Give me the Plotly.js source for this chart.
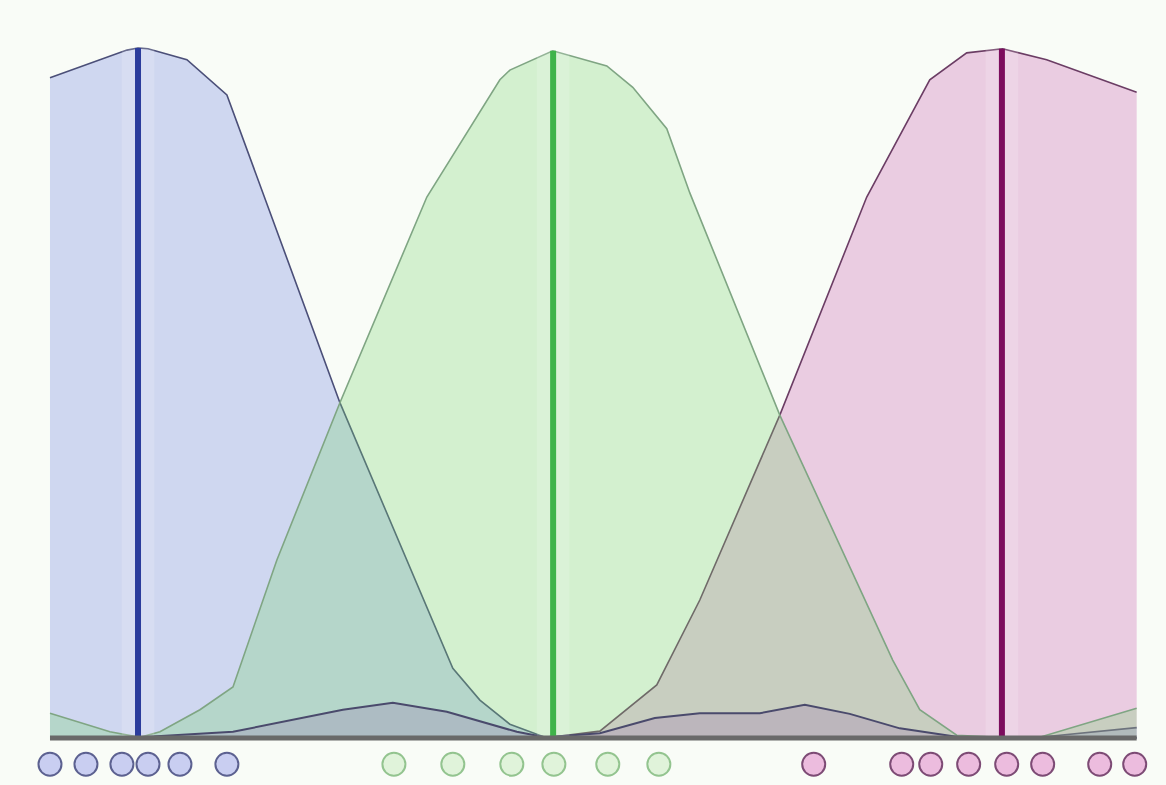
<!DOCTYPE html>
<html>
<head>
<meta charset="utf-8">
<script src="https://cdn.plot.ly/plotly-3.0.1.min.js"></script>
<style>
  html, body { margin: 0; padding: 0; background: #f9fcf7; }
  #plot { width: 1166px; height: 785px; }
</style>
</head>
<body>
<div id="plot"></div>
<script>
// density curves (x in arbitrary units 0..10, peak height ~1)
let blueX = [0.000, 0.405, 0.708, 0.810, 0.902, 1.260, 1.628, 2.668, 3.707, 3.956, 4.232, 4.554, 5.060, 9.108, 10.0];
let blueY = [0.957, 0.980, 0.997, 1.000, 0.999, 0.983, 0.932, 0.486, 0.101, 0.055, 0.020, 0.001, 0.000, 0.001, 0.015];

let greenX = [0.000, 0.552, 0.828, 1.012, 1.380, 1.684, 2.088, 2.668, 3.468, 4.140, 4.232, 4.627, 5.124, 5.363,
              5.676, 5.888, 6.716, 7.755, 8.004, 8.344, 8.740, 9.108, 10.0];
let greenY = [0.036, 0.009, 0.001, 0.009, 0.041, 0.074, 0.258, 0.486, 0.784, 0.954, 0.968, 0.996, 0.974, 0.943,
              0.883, 0.790, 0.468, 0.113, 0.041, 0.004, 0.001, 0.001, 0.043];

let pinkX = [0.000, 4.554, 5.060, 5.584, 5.980, 6.716, 7.516, 8.096, 8.436, 8.767, 9.172, 10.0];
let pinkY = [0.000, 0.000, 0.010, 0.077, 0.200, 0.468, 0.784, 0.954, 0.993, 0.999, 0.983, 0.936];

// small bumps along the bottom
let bumpX = [0.000, 0.828, 1.684, 2.695, 3.155, 3.652, 4.296, 4.554, 5.060, 5.566, 5.980, 6.532, 6.946, 7.360, 7.820, 8.372, 10.0];
let bumpY = [0.000, 0.001, 0.009, 0.041, 0.051, 0.038, 0.009, 0.001, 0.007, 0.029, 0.036, 0.036, 0.048, 0.035, 0.014, 0.001, 0.000];

// peak positions (vertical lines)
let peakX = [0.81, 4.63, 8.76];
let peakY = [1.000, 0.996, 0.999];

// sample points drawn as circles under the axis
let blueDots = [0.000, 0.331, 0.662, 0.902, 1.196, 1.628];
let greenDots = [3.165, 3.707, 4.250, 4.637, 5.133, 5.603];
let pinkDots = [7.028, 7.838, 8.105, 8.454, 8.804, 9.135, 9.660, 9.982];
let dotLevel = -0.038;

let fills = ['rgba(150,165,230,0.42)', 'rgba(122,212,117,0.30)', 'rgba(190,60,160,0.25)'];
let edges = ['#4b4f78', '#7fa583', '#6b3d64'];
let peakColors = ['#2b3c9c', '#3fb34a', '#7c0c5d'];
let dotFills = ['#c9cef1', '#e0f3da', '#ecbcde'];
let dotEdges = ['#5c6190', '#93c48f', '#7d4b75'];

let curves = [[blueX, blueY], [greenX, greenY], [pinkX, pinkY]];
let dots = [blueDots, greenDots, pinkDots];

let data = [];

// blue, then pink, then green on top (gives the greyish overlap)
[0, 2, 1].forEach(function (i) {
    data.push({
        x: curves[i][0], y: curves[i][1], type: 'scatter', mode: 'lines',
        fill: 'tozeroy', fillcolor: fills[i],
        line: {color: edges[i], width: 1.6}
    });
});

// bump under everything else
data.push({
    x: bumpX, y: bumpY, type: 'scatter', mode: 'lines',
    fill: 'tozeroy', fillcolor: 'rgba(150,110,175,0.25)',
    line: {color: '#4a4a6c', width: 2}
});

// light bands + vertical peak lines
let bandW = 0.15;
peakX.forEach(function (p, i) {
    data.push({
        x: [p - bandW, p + bandW, p + bandW, p - bandW], y: [0, 0, peakY[i], peakY[i]],
        type: 'scatter', mode: 'none', fill: 'toself', fillcolor: 'rgba(255,255,255,0.17)'
    });
    data.push({
        x: [p, p], y: [0, peakY[i]], type: 'scatter', mode: 'lines',
        line: {color: peakColors[i], width: 6}
    });
});

// baseline
data.push({
    x: [0, 10], y: [0, 0], type: 'scatter', mode: 'lines',
    line: {color: '#696969', width: 5}
});

dots.forEach(function (d, i) {
    data.push({
        x: d, y: d.map(function () { return dotLevel; }),
        type: 'scatter', mode: 'markers', cliponaxis: false,
        marker: {size: 23, color: dotFills[i], line: {color: dotEdges[i], width: 2}}
    });
});

let layout = {
    width: 1166, height: 785,
    margin: {l: 0, r: 0, t: 0, b: 0},
    paper_bgcolor: '#f9fcf7',
    plot_bgcolor: '#f9fcf7',
    showlegend: false,
    xaxis: {range: [-0.46, 10.27], visible: false, fixedrange: true},
    yaxis: {range: [-0.0681, 1.0696], visible: false, fixedrange: true},
    hovermode: false
};

Plotly.newPlot('plot', data, layout, {displayModeBar: false, staticPlot: true});
</script>
</body>
</html>
